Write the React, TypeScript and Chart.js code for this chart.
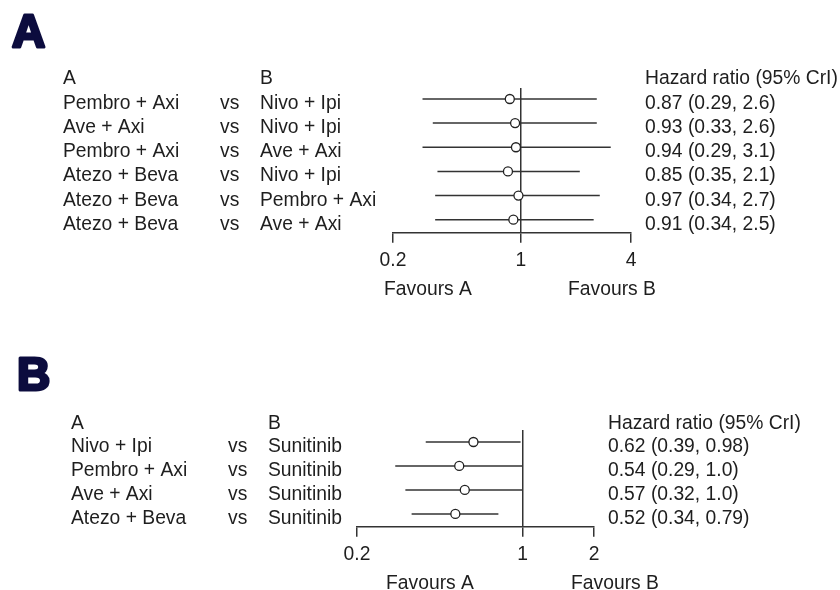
import { useEffect, useRef } from 'react';
import { Chart, registerables } from 'chart.js';

Chart.register(...registerables);

const FONT = '"Liberation Sans", Arial, sans-serif';

// ---- Panel A data ----
const armsA_A = ['Pembro + Axi', 'Ave + Axi', 'Pembro + Axi', 'Atezo + Beva', 'Atezo + Beva', 'Atezo + Beva'];
const armsA_B = ['Nivo + Ipi', 'Nivo + Ipi', 'Ave + Axi', 'Nivo + Ipi', 'Pembro + Axi', 'Ave + Axi'];
const hrA = [0.87, 0.93, 0.94, 0.85, 0.97, 0.91];
const lowA = [0.29, 0.33, 0.29, 0.35, 0.34, 0.34];
const highA = [2.6, 2.6, 3.1, 2.1, 2.7, 2.5];
const ticksA = [0.2, 1, 4];

// ---- Panel B data ----
const armsB_A = ['Nivo + Ipi', 'Pembro + Axi', 'Ave + Axi', 'Atezo + Beva'];
const armsB_B = ['Sunitinib', 'Sunitinib', 'Sunitinib', 'Sunitinib'];
const hrB = [0.62, 0.54, 0.57, 0.52];
const lowB = [0.39, 0.29, 0.32, 0.34];
const highB = [0.98, 1.0, 1.0, 0.79];
const ticksB = [0.2, 1, 2];

const fmt = (v: number) => v.toPrecision(2);

type Spec = {
  letter: string;
  armsA: string[];
  armsB: string[];
  hr: number[];
  low: number[];
  high: number[];
  ticks: number[];
  height: number;
  pad: { left: number; right: number; top: number; bottom: number };
  yMin: number;
  yMax: number;
  titleX: number;
  titleBase: number;
  headerBase: number;
  colA: number;
  colVs: number;
  colB: number;
  colHR: number;
  favBase: number;
  favAX: number;
  favBX: number;
};

function build(canvas: HTMLCanvasElement, p: Spec) {
  const lineSets = p.low.map((lo, i) => ({
    type: 'line' as const,
    data: [
      { x: lo, y: i },
      { x: p.high[i], y: i },
    ],
    borderColor: '#333333',
    borderWidth: 1.5,
    pointRadius: 0,
    fill: false,
    order: 2,
  }));
  const pointSet = {
    type: 'scatter' as const,
    data: p.hr.map((v, i) => ({ x: v, y: i })),
    pointRadius: 4.5,
    pointBackgroundColor: '#ffffff',
    pointBorderColor: '#222222',
    pointBorderWidth: 1.3,
    order: 0,
  };

  const textPlugin = {
    id: 'forestText',
    afterDraw(chart: any) {
      const ctx = chart.ctx as CanvasRenderingContext2D;
      const ys = chart.scales.y;
      ctx.save();
      // panel letter
      ctx.font = `bold 46px ${FONT}`;
      ctx.fillStyle = '#0c0c3e';
      ctx.strokeStyle = '#0c0c3e';
      ctx.lineWidth = 3;
      ctx.lineJoin = 'round';
      ctx.textAlign = 'left';
      ctx.textBaseline = 'alphabetic';
      ctx.strokeText(p.letter, p.titleX, p.titleBase);
      ctx.fillText(p.letter, p.titleX, p.titleBase);

      ctx.font = `19.3px ${FONT}`;
      ctx.fillStyle = '#1e1e1e';
      ctx.fillText('A', p.colA, p.headerBase);
      ctx.fillText('B', p.colB, p.headerBase);
      ctx.fillText('Hazard ratio (95% CrI)', p.colHR, p.headerBase);
      p.hr.forEach((v, i) => {
        const y = ys.getPixelForValue(i) + 10;
        ctx.fillText(p.armsA[i], p.colA, y);
        ctx.fillText('vs', p.colVs, y);
        ctx.fillText(p.armsB[i], p.colB, y);
        ctx.fillText(`${fmt(v)} (${fmt(p.low[i])}, ${fmt(p.high[i])})`, p.colHR, y);
      });
      ctx.textAlign = 'center';
      ctx.fillText('Favours A', p.favAX, p.favBase);
      ctx.fillText('Favours B', p.favBX, p.favBase);
      ctx.restore();
    },
  };

  return new Chart(canvas, {
    type: 'scatter',
    data: { datasets: [...lineSets, pointSet] as any },
    options: {
      animation: false,
      responsive: false,
      devicePixelRatio: 1,
      layout: { padding: p.pad },
      plugins: { legend: { display: false }, tooltip: { enabled: false } },
      scales: {
        x: {
          type: 'logarithmic',
          min: p.ticks[0],
          max: p.ticks[p.ticks.length - 1],
          afterBuildTicks: (s: any) => {
            s.ticks = p.ticks.map((v) => ({ value: v }));
          },
          ticks: {
            callback: (v: any) => String(v),
            font: { family: FONT, size: 19.3 },
            color: '#1e1e1e',
            padding: 6,
            maxRotation: 0,
            autoSkip: false,
          },
          grid: {
            color: (c: any) => (c.tick && c.tick.value === 1 ? '#333333' : 'rgba(0,0,0,0)'),
            lineWidth: 1.5,
            tickColor: '#333333',
            tickLength: 10,
            tickWidth: 1.5,
          },
          border: { display: true, color: '#333333', width: 1.5 },
        },
        y: {
          type: 'linear',
          reverse: true,
          min: p.yMin,
          max: p.yMax,
          display: false,
        },
      },
    },
    plugins: [textPlugin],
  } as any);
}

const specA: Spec = {
  letter: 'A',
  armsA: armsA_A,
  armsB: armsA_B,
  hr: hrA,
  low: lowA,
  high: highA,
  ticks: ticksA,
  height: 320,
  pad: { left: 393, right: 209, top: 88, bottom: 42 },
  yMin: -0.455,
  yMax: 5.545,
  titleX: 12,
  titleBase: 47,
  headerBase: 84,
  colA: 63,
  colVs: 220,
  colB: 260,
  colHR: 645,
  favBase: 295,
  favAX: 428,
  favBX: 612,
};

const specB: Spec = {
  letter: 'B',
  armsA: armsB_A,
  armsB: armsB_B,
  hr: hrB,
  low: lowB,
  high: highB,
  ticks: ticksB,
  height: 270,
  pad: { left: 357, right: 246, top: 110, bottom: 18 },
  yMin: -0.5,
  yMax: 3.54,
  titleX: 17,
  titleBase: 70,
  headerBase: 109,
  colA: 71,
  colVs: 228,
  colB: 268,
  colHR: 608,
  favBase: 269,
  favAX: 430,
  favBX: 615,
};

export default function App() {
  const refA = useRef<HTMLCanvasElement>(null);
  const refB = useRef<HTMLCanvasElement>(null);
  useEffect(() => {
    const a = build(refA.current!, specA);
    const b = build(refB.current!, specB);
    return () => {
      a.destroy();
      b.destroy();
    };
  }, []);
  return (
    <div style={{ position: 'fixed', left: 0, top: 0, width: 840, height: 590, background: '#fff' }}>
      <canvas ref={refA} width={840} height={320} style={{ position: 'absolute', left: 0, top: 0, width: 840, height: 320 }} />
      <canvas ref={refB} width={840} height={270} style={{ position: 'absolute', left: 0, top: 320, width: 840, height: 270 }} />
    </div>
  );
}
